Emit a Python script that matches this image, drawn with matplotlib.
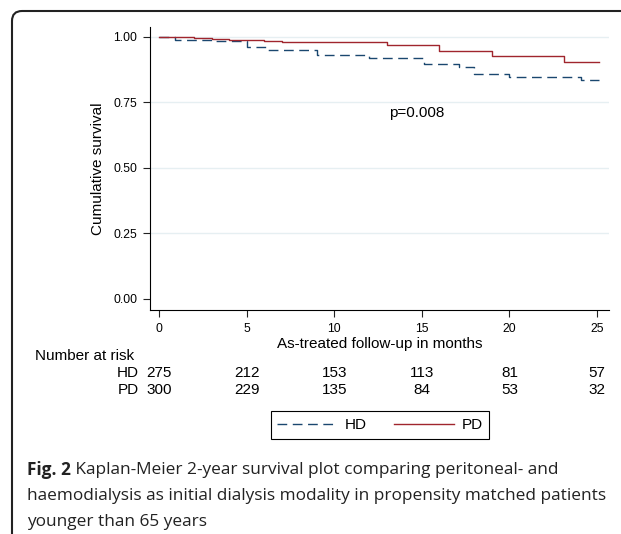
import numpy as np
import matplotlib
matplotlib.use("Agg")
import matplotlib.pyplot as plt
from matplotlib.patches import FancyBboxPatch
from matplotlib.transforms import IdentityTransform, blended_transform_factory

plt.rcParams['font.family'] = ['Liberation Sans', 'DejaVu Sans']

# step times (months) and survival after each step
hd_time = [0, 0.9, 3.0, 5.0, 6.1, 9.0, 12.0, 15.1, 17.1, 18.0, 20.0, 24.1, 25.1]
hd_surv = [1.0, 0.990, 0.983, 0.963, 0.952, 0.932, 0.920, 0.897, 0.885, 0.860, 0.849, 0.834, 0.834]
pd_time = [0, 2.0, 3.0, 4.0, 6.0, 7.0, 13.0, 16.0, 19.0, 23.1, 25.1]
pd_surv = [1.0, 0.996, 0.992, 0.990, 0.986, 0.981, 0.969, 0.945, 0.929, 0.904, 0.904]

risk_times = [0, 5, 10, 15, 20, 25]
hd_risk = [275, 212, 153, 113, 81, 57]
pd_risk = [300, 229, 135, 84, 53, 32]

p_text = "p=0.008"
caption_bold = "Fig. 2"
caption_lines = [" Kaplan-Meier 2-year survival plot comparing peritoneal- and",
                 "haemodialysis as initial dialysis modality in propensity matched patients",
                 "younger than 65 years"]

navy = '#1a476f'
maroon = '#a0252d'
fs = 11

fig = plt.figure(figsize=(6.21, 5.34), dpi=100)
ax = fig.add_axes([150 / 621, 1 - 310 / 534, (609 - 150) / 621, (310 - 27) / 534])

for y in [0.25, 0.5, 0.75, 1.0]:
    ax.axhline(y, color='#e6eff2', lw=1.0, zorder=0)

ax.step(hd_time, hd_surv, where='post', color=navy, lw=1.0, dashes=(7, 4), label='HD')
ax.step(pd_time, pd_surv, where='post', color=maroon, lw=1.0, label='PD')

ax.set_xlim(-0.51, 25.68)
ax.set_ylim(-0.042, 1.038)
ax.set_xticks(risk_times)
ax.set_yticks([0, 0.25, 0.5, 0.75, 1.0])
ax.set_yticklabels(['%.2f' % v for v in [0, 0.25, 0.5, 0.75, 1.0]])
ax.tick_params(labelsize=8.8, length=5, width=0.8, color='#222222', pad=4)
ax.spines['top'].set_visible(False)
ax.spines['right'].set_visible(False)
ax.set_ylabel('Cumulative survival', fontsize=fs, labelpad=6)
ax.set_xlabel('As-treated follow-up in months', fontsize=fs, labelpad=2)
ax.text(14.7, 0.71, p_text, fontsize=fs, ha='center', va='center')

# number at risk table
tr = blended_transform_factory(ax.transData, fig.transFigure)
fig.text(35 / 621, 1 - 356 / 534, 'Number at risk', fontsize=fs, va='center')
for lab, vals, ypix in [('HD', hd_risk, 373), ('PD', pd_risk, 390)]:
    yf = 1 - ypix / 534
    fig.text(139 / 621, yf, lab, fontsize=fs, va='center', ha='right')
    for t, v in zip(risk_times, vals):
        ax.text(t, yf, str(v), transform=tr, fontsize=fs, ha='center', va='center')

leg = fig.legend(loc='center', bbox_to_anchor=(380 / 621, 1 - 425 / 534), ncol=2,
                 fontsize=fs, handlelength=3.9, columnspacing=1.8, handletextpad=0.5,
                 fancybox=False, edgecolor='black', framealpha=1, borderpad=0.45)
leg.get_frame().set_linewidth(0.8)

# caption
cap_font = ['Open Sans', 'DejaVu Sans']
cap_fs = 12.4
t1 = fig.text(27 / 621, 1 - 470 / 534, caption_bold, fontsize=cap_fs, fontweight='bold',
              family=cap_font, va='center', color='#222222')
fig.canvas.draw()
bb = t1.get_window_extent()
fig.text(bb.x1 / 621, 1 - 470 / 534, caption_lines[0], fontsize=cap_fs, family=cap_font,
         va='center', color='#222222')
fig.text(27 / 621, 1 - 496 / 534, caption_lines[1], fontsize=cap_fs, family=cap_font,
         va='center', color='#222222')
fig.text(27 / 621, 1 - 522 / 534, caption_lines[2], fontsize=cap_fs, family=cap_font,
         va='center', color='#222222')

# border of the figure box
box = FancyBboxPatch((12, -30), 720, 534 - 11 + 30, boxstyle='round,pad=0,rounding_size=10',
                     transform=IdentityTransform(), fill=False, edgecolor='#222222', lw=1.5)
fig.add_artist(box)

fig.savefig('out.png', dpi=100)
